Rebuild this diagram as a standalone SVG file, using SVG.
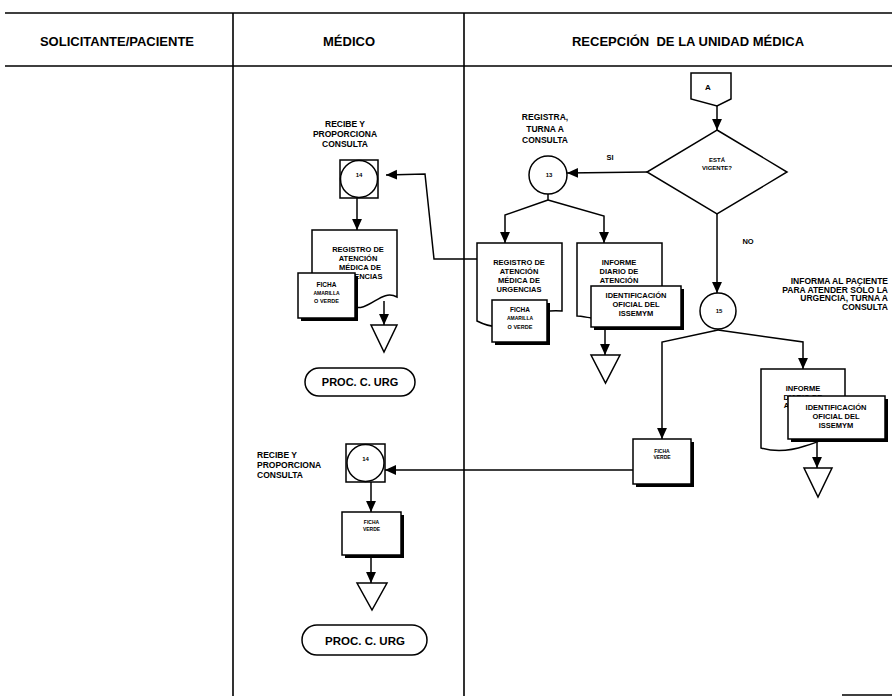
<svg xmlns="http://www.w3.org/2000/svg" width="892" height="696" viewBox="0 0 892 696">
<style>
text{font-family:"Liberation Sans",Arial,Helvetica,sans-serif;font-weight:bold;fill:#000}
.c{text-anchor:middle}
.r{text-anchor:end}
.h{font-size:13px}
.lbl{font-size:8.5px}
.doc{font-size:7.5px}
.s{fill:#fff;stroke:#000;stroke-width:1.5}
.sh{fill:#000}
.ln{fill:none;stroke:#000;stroke-width:1.5}
.ar{fill:none;stroke:#000;stroke-width:1.5;marker-end:url(#ah)}
.grid{fill:none;stroke:#000;stroke-width:1.6}
</style>
<defs>
<marker id="ah" markerWidth="11" markerHeight="11" viewBox="0 0 10 10" refX="10" refY="5" orient="auto" markerUnits="userSpaceOnUse">
<path d="M0,0.5 L10,5 L0,9.5 z" fill="#000"/>
</marker>
</defs>
<rect width="892" height="696" fill="#fff"/>

<!-- swimlane frame -->
<g id="lanes">
<path class="grid" d="M5,13 H892 M5,66 H892 M233,13 V696 M464,13 V696 M842,695 H892"/>
<text class="c h" x="117" y="45.5">SOLICITANTE/PACIENTE</text>
<text class="c h" x="349" y="45.5">MÉDICO</text>
<text class="c h" x="688" y="45.5" xml:space="preserve">RECEPCIÓN  DE LA UNIDAD MÉDICA</text>
</g>

<!-- connectors -->
<g id="connectors">
<path class="ar" d="M717,106 V130"/>
<path class="ar" d="M647,172 L567,173"/>
<path class="ln" d="M548,194 V200"/>
<path class="ar" d="M548,200 L505,215 V243"/>
<path class="ar" d="M548,200 L604,216 V243"/>
<path class="ar" d="M477,259 H434 L425,174 L386,175"/>
<path class="ar" d="M357,198 V230"/>
<path class="ar" d="M384,301 V325"/>
<path class="ar" d="M605,328 V355"/>
<path class="ar" d="M717,214 V293"/>
<path class="ln" d="M718,329 V330"/>
<path class="ar" d="M718,330 L662,342 V439"/>
<path class="ar" d="M718,330 L803,342 V369"/>
<path class="ar" d="M817,440 V468"/>
<path class="ar" d="M633,470 H385"/>
<path class="ar" d="M371,482 V512"/>
<path class="ar" d="M371,555 V583"/>
<text x="610" y="160" style="font-size:7.5px" class="c">SI</text>
<text x="748" y="244" style="font-size:7.5px" class="c">NO</text>
</g>

<!-- reception: page connector A -->
<g id="conector-a">
<path class="s" d="M691,73 H731 V99 L717,106 L691,99 Z"/>
<text x="708" y="90" style="font-size:8px" class="c">A</text>
</g>

<!-- decision -->
<g id="vigente">
<polygon class="s" points="717,130 787,172 717,214 647,172"/>
<text x="717" y="162" style="font-size:6px" class="c">ESTÁ</text>
<text x="717" y="169.5" style="font-size:6px" class="c">VIGENTE?</text>
</g>

<!-- activity 13 -->
<g id="act-13">
<text x="545" y="120" class="c lbl">REGISTRA,</text>
<text x="545" y="131.5" class="c lbl">TURNA A</text>
<text x="545" y="143" class="c lbl">CONSULTA</text>
<circle class="s" cx="548" cy="175" r="19"/>
<text x="549" y="177" style="font-size:6px" class="c">13</text>
</g>

<!-- document: registro de atencion (reception) -->
<g id="doc-registro-rec">
<path class="s" d="M477,243 H562 V311 C540,309 520,318 505,325 C495,329 485,325 477,321 Z"/>
<text x="519" y="265" class="c doc">REGISTRO DE</text>
<text x="519" y="274" class="c doc">ATENCIÓN</text>
<text x="519" y="283" class="c doc">MÉDICA DE</text>
<text x="519" y="292" class="c doc">URGENCIAS</text>
<rect class="sh" x="495" y="303" width="55" height="42"/>
<rect class="s" x="492" y="300" width="55" height="42"/>
<text x="520" y="312" style="font-size:6.5px" class="c">FICHA</text>
<text x="520" y="320" style="font-size:5px" class="c">AMARILLA</text>
<text x="520" y="329" style="font-size:5.5px" class="c">O VERDE</text>
</g>

<!-- document: informe diario (reception) -->
<g id="doc-informe-rec">
<path class="s" d="M577,243 H662 V300 C640,305 610,322 591,318 C585,317 580,316 577,316 Z"/>
<text x="619" y="265" class="c doc">INFORME</text>
<text x="619" y="274" class="c doc">DIARIO DE</text>
<text x="619" y="283" class="c doc">ATENCIÓN</text>
<rect class="sh" x="594" y="289" width="90" height="41"/>
<rect class="s" x="591" y="286" width="90" height="41"/>
<text x="636" y="298" class="c doc">IDENTIFICACIÓN</text>
<text x="636" y="307" class="c doc">OFICIAL DEL</text>
<text x="636" y="316" class="c doc">ISSEMYM</text>
</g>
<g id="fin-rec-1">
<polygon class="s" points="591,355 620,355 605.5,383"/>
</g>

<!-- activity 15 -->
<g id="act-15">
<circle class="s" cx="718" cy="311" r="18"/>
<text x="719" y="313" style="font-size:6px" class="c">15</text>
<text x="888" y="284" class="r lbl">INFORMA AL PACIENTE</text>
<text x="888" y="292.5" class="r lbl">PARA ATENDER SÓLO LA</text>
<text x="888" y="301" class="r lbl">URGENCIA, TURNA A</text>
<text x="888" y="309.5" class="r lbl">CONSULTA</text>
</g>

<!-- ficha verde (reception) -->
<g id="ficha-verde-rec">
<rect class="sh" x="636" y="442" width="58" height="45"/>
<rect class="s" x="633" y="439" width="58" height="45"/>
<text x="662" y="453" style="font-size:5px" class="c">FICHA</text>
<text x="662" y="459" style="font-size:5px" class="c">VERDE</text>
</g>

<!-- document: informe diario (second branch) -->
<g id="doc-informe-rec-2">
<path class="s" d="M761,369 H845 V430 C830,436 820,442 805,446 C790,451 775,452 761,448 Z"/>
<text x="803" y="391" class="c doc">INFORME</text>
<text x="803" y="399.5" class="c doc">DIARIO DE</text>
<text x="803" y="408" class="c doc">ATENCIÓN</text>
<rect class="sh" x="791" y="399" width="97" height="43"/>
<rect class="s" x="788" y="396" width="97" height="43"/>
<text x="836" y="410" class="c doc">IDENTIFICACIÓN</text>
<text x="836" y="419" class="c doc">OFICIAL DEL</text>
<text x="836" y="428" class="c doc">ISSEMYM</text>
</g>
<g id="fin-rec-2">
<polygon class="s" points="804,468 832,468 818,497"/>
</g>

<!-- medico: activity 14 (first) -->
<g id="act-14a">
<text x="345" y="127" class="c lbl">RECIBE Y</text>
<text x="345" y="137" class="c lbl">PROPORCIONA</text>
<text x="345" y="147" class="c lbl">CONSULTA</text>
<rect class="s" x="340" y="160" width="38" height="38"/>
<circle class="s" cx="359" cy="179" r="18.5"/>
<text x="359" y="177" style="font-size:6px" class="c">14</text>
</g>

<g id="doc-registro-med">
<path class="s" d="M312,230 H397 V297 C380,288 370,314 350,306 C335,300 322,300 312,302 Z"/>
<text x="358" y="252" class="c doc">REGISTRO DE</text>
<text x="358" y="261" class="c doc">ATENCIÓN</text>
<text x="360" y="270" class="c doc">MÉDICA DE</text>
<text x="360" y="279" class="c doc">URGENCIAS</text>
<rect class="sh" x="301" y="276" width="57" height="45"/>
<rect class="s" x="298" y="273" width="57" height="45"/>
<text x="326.5" y="287" style="font-size:6.5px" class="c">FICHA</text>
<text x="326.5" y="295" style="font-size:5px" class="c">AMARILLA</text>
<text x="326.5" y="303" style="font-size:5.5px" class="c">O VERDE</text>
</g>
<g id="fin-med-1">
<polygon class="s" points="371,325 397,325 384,352"/>
</g>
<g id="proc-1">
<rect class="s" x="305" y="368" width="110" height="28" rx="14"/>
<text x="360" y="386" style="font-size:11px" class="c">PROC. C. URG</text>
</g>

<!-- medico: activity 14 (second) -->
<g id="act-14b">
<text x="257" y="458" class="lbl">RECIBE Y</text>
<text x="257" y="468" class="lbl">PROPORCIONA</text>
<text x="257" y="478" class="lbl">CONSULTA</text>
<rect class="s" x="346" y="444" width="39" height="38"/>
<circle class="s" cx="365.5" cy="463" r="18.5"/>
<text x="365.5" y="461" style="font-size:6px" class="c">14</text>
</g>
<g id="ficha-verde-med">
<rect class="sh" x="345" y="515" width="59" height="43"/>
<rect class="s" x="342" y="512" width="59" height="43"/>
<text x="371.5" y="524" style="font-size:5px" class="c">FICHA</text>
<text x="371.5" y="531" style="font-size:5px" class="c">VERDE</text>
</g>
<g id="fin-med-2">
<polygon class="s" points="357,583 387,583 372,610"/>
</g>
<g id="proc-2">
<rect class="s" x="302" y="625" width="125" height="30" rx="15"/>
<text x="365" y="644.5" style="font-size:11.5px" class="c">PROC. C. URG</text>
</g>
</svg>
